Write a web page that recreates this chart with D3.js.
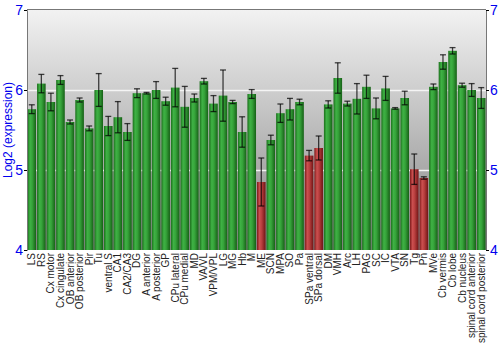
<!DOCTYPE html>
<html>
<head>
<meta charset="utf-8">
<script src="https://cdn.jsdelivr.net/npm/d3@7"></script>
<style>
  html, body { margin: 0; padding: 0; background: #fff; }
  svg { display: block; font-family: "Liberation Sans", Arial, sans-serif; }
</style>
</head>
<body>
<svg id="chart" width="500" height="350"></svg>
<script>
// Brain regions along the x axis
const regions = ["LS", "RS", "Cx motor", "Cx cingulate", "OB anterior", "OB posterior", "Pir", "Tu",
  "ventral S", "CA1", "CA2/CA3", "DG", "A anterior", "A posterior", "GP", "CPu lateral", "CPu medial",
  "MD", "VA/VL", "VPM/VPL", "LG", "MG", "Hb", "M", "ME", "SCN", "MPA", "SO", "Pa", "SPa ventral",
  "SPa dorsal", "DM", "VMH", "Arc", "LH", "PAG", "SC", "IC", "VTA", "SN", "Tg", "Pn", "MVe",
  "Cb vermis", "Cb lobe", "Cb nucleus", "spinal cord anterior", "spinal cord posterior"];

// Mean log2 expression per region
const expression = [5.76, 6.08, 5.85, 6.125, 5.60, 5.875, 5.52, 6.00,
  5.55, 5.66, 5.475, 5.96, 5.96, 6.00, 5.86, 6.03, 5.79,
  5.90, 6.11, 5.83, 5.93, 5.85, 5.475, 5.95, 4.85, 5.375, 5.71, 5.76, 5.85, 5.18,
  5.275, 5.82, 6.15, 5.83, 5.89, 6.04, 5.77, 6.02, 5.77, 5.90, 5.01, 4.90, 6.04,
  6.35, 6.49, 6.06, 6.00, 5.90];

// Half-length of the error bar for each region
const errHalf = [0.055, 0.115, 0.11, 0.055, 0.025, 0.025, 0.03, 0.205,
  0.12, 0.195, 0.105, 0.055, 0.01, 0.105, 0.05, 0.24, 0.255,
  0.05, 0.035, 0.10, 0.32, 0.02, 0.19, 0.055, 0.30, 0.06, 0.115, 0.135, 0.035, 0.065,
  0.15, 0.045, 0.19, 0.03, 0.19, 0.145, 0.13, 0.15, 0.01, 0.085, 0.19, 0.015, 0.035,
  0.09, 0.04, 0.025, 0.08, 0.13];

const yTicks = [4, 5, 6, 7];
const lowThreshold = 5.3;   // regions below this are shown in red

const svg = d3.select("#chart");
const plotLeft = 27, plotRight = 486, plotTop = 10, plotBottom = 250;

const x = d3.scaleBand().domain(regions).range([plotLeft, plotRight]).paddingInner(0.1).paddingOuter(0.05);
const y = d3.scaleLinear().domain([4, 7]).range([plotBottom, plotTop]);

const defs = svg.append("defs");
const bg = defs.append("linearGradient").attr("id", "bgGrad")
  .attr("x1", 0).attr("y1", 0).attr("x2", 0).attr("y2", 1);
bg.append("stop").attr("offset", "0%").attr("stop-color", "#f2f2f2");
bg.append("stop").attr("offset", "100%").attr("stop-color", "#858585");

function barGradient(id, stops) {
  const g = defs.append("linearGradient").attr("id", id)
    .attr("x1", 0).attr("y1", 0).attr("x2", 1).attr("y2", 0);
  stops.forEach(([o, c]) => g.append("stop").attr("offset", o).attr("stop-color", c));
}
barGradient("greenGrad", [["0%", "#1b6f1b"], ["30%", "#3fb245"], ["55%", "#36a33a"], ["100%", "#166016"]]);
barGradient("redGrad", [["0%", "#7e1a1a"], ["30%", "#cc5050"], ["55%", "#b83e3e"], ["100%", "#6e1414"]]);

// Plot background
svg.append("rect").attr("x", plotLeft).attr("y", plotTop)
  .attr("width", plotRight - plotLeft).attr("height", plotBottom - plotTop)
  .attr("fill", "url(#bgGrad)");

// Horizontal grid lines
svg.append("g").selectAll("line").data([5, 6]).join("line")
  .attr("x1", plotLeft).attr("x2", plotRight)
  .attr("y1", d => y(d) + 0.5).attr("y2", d => y(d) + 0.5)
  .attr("stroke", "#f4f4f4").attr("stroke-width", 1.5);

// Bars
svg.append("g").selectAll("rect").data(regions).join("rect")
  .attr("x", d => x(d))
  .attr("width", x.bandwidth())
  .attr("y", (d, i) => y(expression[i]))
  .attr("height", (d, i) => y(4) - y(expression[i]))
  .attr("fill", (d, i) => expression[i] < lowThreshold ? "url(#redGrad)" : "url(#greenGrad)");

// Error bars
const eb = svg.append("g").attr("stroke", "rgba(0,0,0,0.72)").attr("stroke-width", 1.3);
regions.forEach((d, i) => {
  const cx = x(d) + x.bandwidth() / 2;
  const y1 = y(expression[i] + errHalf[i]), y2 = y(expression[i] - errHalf[i]);
  eb.append("line").attr("x1", cx).attr("x2", cx).attr("y1", y1).attr("y2", y2);
  eb.append("line").attr("x1", cx - 3).attr("x2", cx + 3).attr("y1", y1).attr("y2", y1);
  eb.append("line").attr("x1", cx - 3).attr("x2", cx + 3).attr("y1", y2).attr("y2", y2);
});

// Frame
svg.append("line").attr("x1", plotLeft).attr("x2", plotRight).attr("y1", plotTop - 0.5).attr("y2", plotTop - 0.5)
  .attr("stroke", "#777").attr("stroke-width", 1);

// Left and right axes
const yLeft = svg.append("g").attr("transform", `translate(${plotLeft},0)`)
  .call(d3.axisLeft(y).tickValues(yTicks).tickFormat(d3.format("d")).tickSizeOuter(0).tickSize(3));
const yRight = svg.append("g").attr("transform", `translate(${plotRight},0)`)
  .call(d3.axisRight(y).tickValues(yTicks).tickFormat(d3.format("d")).tickSizeOuter(0).tickSize(3));
[yLeft, yRight].forEach(g => {
  g.select(".domain").attr("stroke", "#777");
  g.selectAll(".tick line").attr("stroke", "#000");
  g.selectAll(".tick text").attr("fill", "#0000ee").attr("font-size", 14)
    .attr("font-family", "Liberation Sans, Arial, sans-serif");
});
yLeft.selectAll(".tick text").attr("x", -4);
yRight.selectAll(".tick text").attr("x", 4);

// Axis title
svg.append("text")
  .attr("transform", `translate(12,${(plotTop + plotBottom) / 2}) rotate(-90)`)
  .attr("text-anchor", "middle")
  .attr("fill", "#0000ee").attr("font-size", 12)
  .text("Log2 (expression)");

// Category labels
svg.append("g").selectAll("text").data(regions).join("text")
  .attr("transform", d => `translate(${x(d) + x.bandwidth() / 2 + 3.5},${plotBottom + 3}) rotate(-90)`)
  .attr("text-anchor", "end")
  .attr("fill", "#222").attr("font-size", 10)
  .text(d => d);
</script>
</body>
</html>
